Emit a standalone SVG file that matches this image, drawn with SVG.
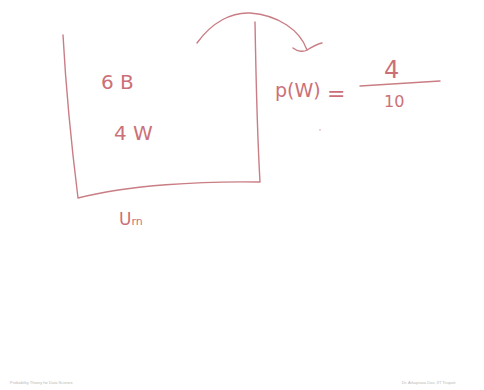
<svg xmlns="http://www.w3.org/2000/svg" width="484" height="390" viewBox="0 0 484 390">
<style>
.ink{fill:none;stroke:#c97d84;stroke-width:1.4;stroke-linecap:round;stroke-linejoin:round}
.hw{font-family:"DejaVu Sans","Liberation Sans",sans-serif;fill:#cc7078}
.foot{font-family:"Liberation Sans",sans-serif;font-size:4px;fill:#b8b8b8}
</style>
<rect width="484" height="390" fill="#ffffff"/>
<g id="urn">
<path class="ink" d="M63,35 C66,90 72,150 78,198 C130,185 200,181 260,182 C257,130 256,80 255,22"/>
<text class="hw" x="101" y="89" font-size="20">6 B</text>
<text class="hw" x="114" y="140" font-size="20">4 W</text>
<text class="hw" x="119" y="225" font-size="17">U<tspan font-size="11">rn</tspan></text>
</g>
<g id="formula">
<text class="hw" x="275" y="97" font-size="19">p(W)</text>
<text class="hw" x="327" y="101" font-size="22">=</text>
<text class="hw" x="384" y="78" font-size="24">4</text>
<line class="ink" x1="360" y1="86" x2="440" y2="81"/>
<text class="hw" x="384" y="107" font-size="16">10</text>
<circle cx="320" cy="130" r="0.8" fill="#d0a0a4"/>
</g>
<g id="connectors">
<path class="ink" d="M197,43 C212,22 232,12 250,13 C278,15 300,30 307,50"/>
<path class="ink" d="M293,48 C298,52 304,52 307,50 C312,47 317,44 322,43"/>
</g>
<g id="footer">
<text class="foot" x="10" y="384">Probability Theory for Data Science</text>
<text class="foot" x="402" y="384">Dr. Arkaprava Das, IIT Tirupati</text>
</g>
</svg>
